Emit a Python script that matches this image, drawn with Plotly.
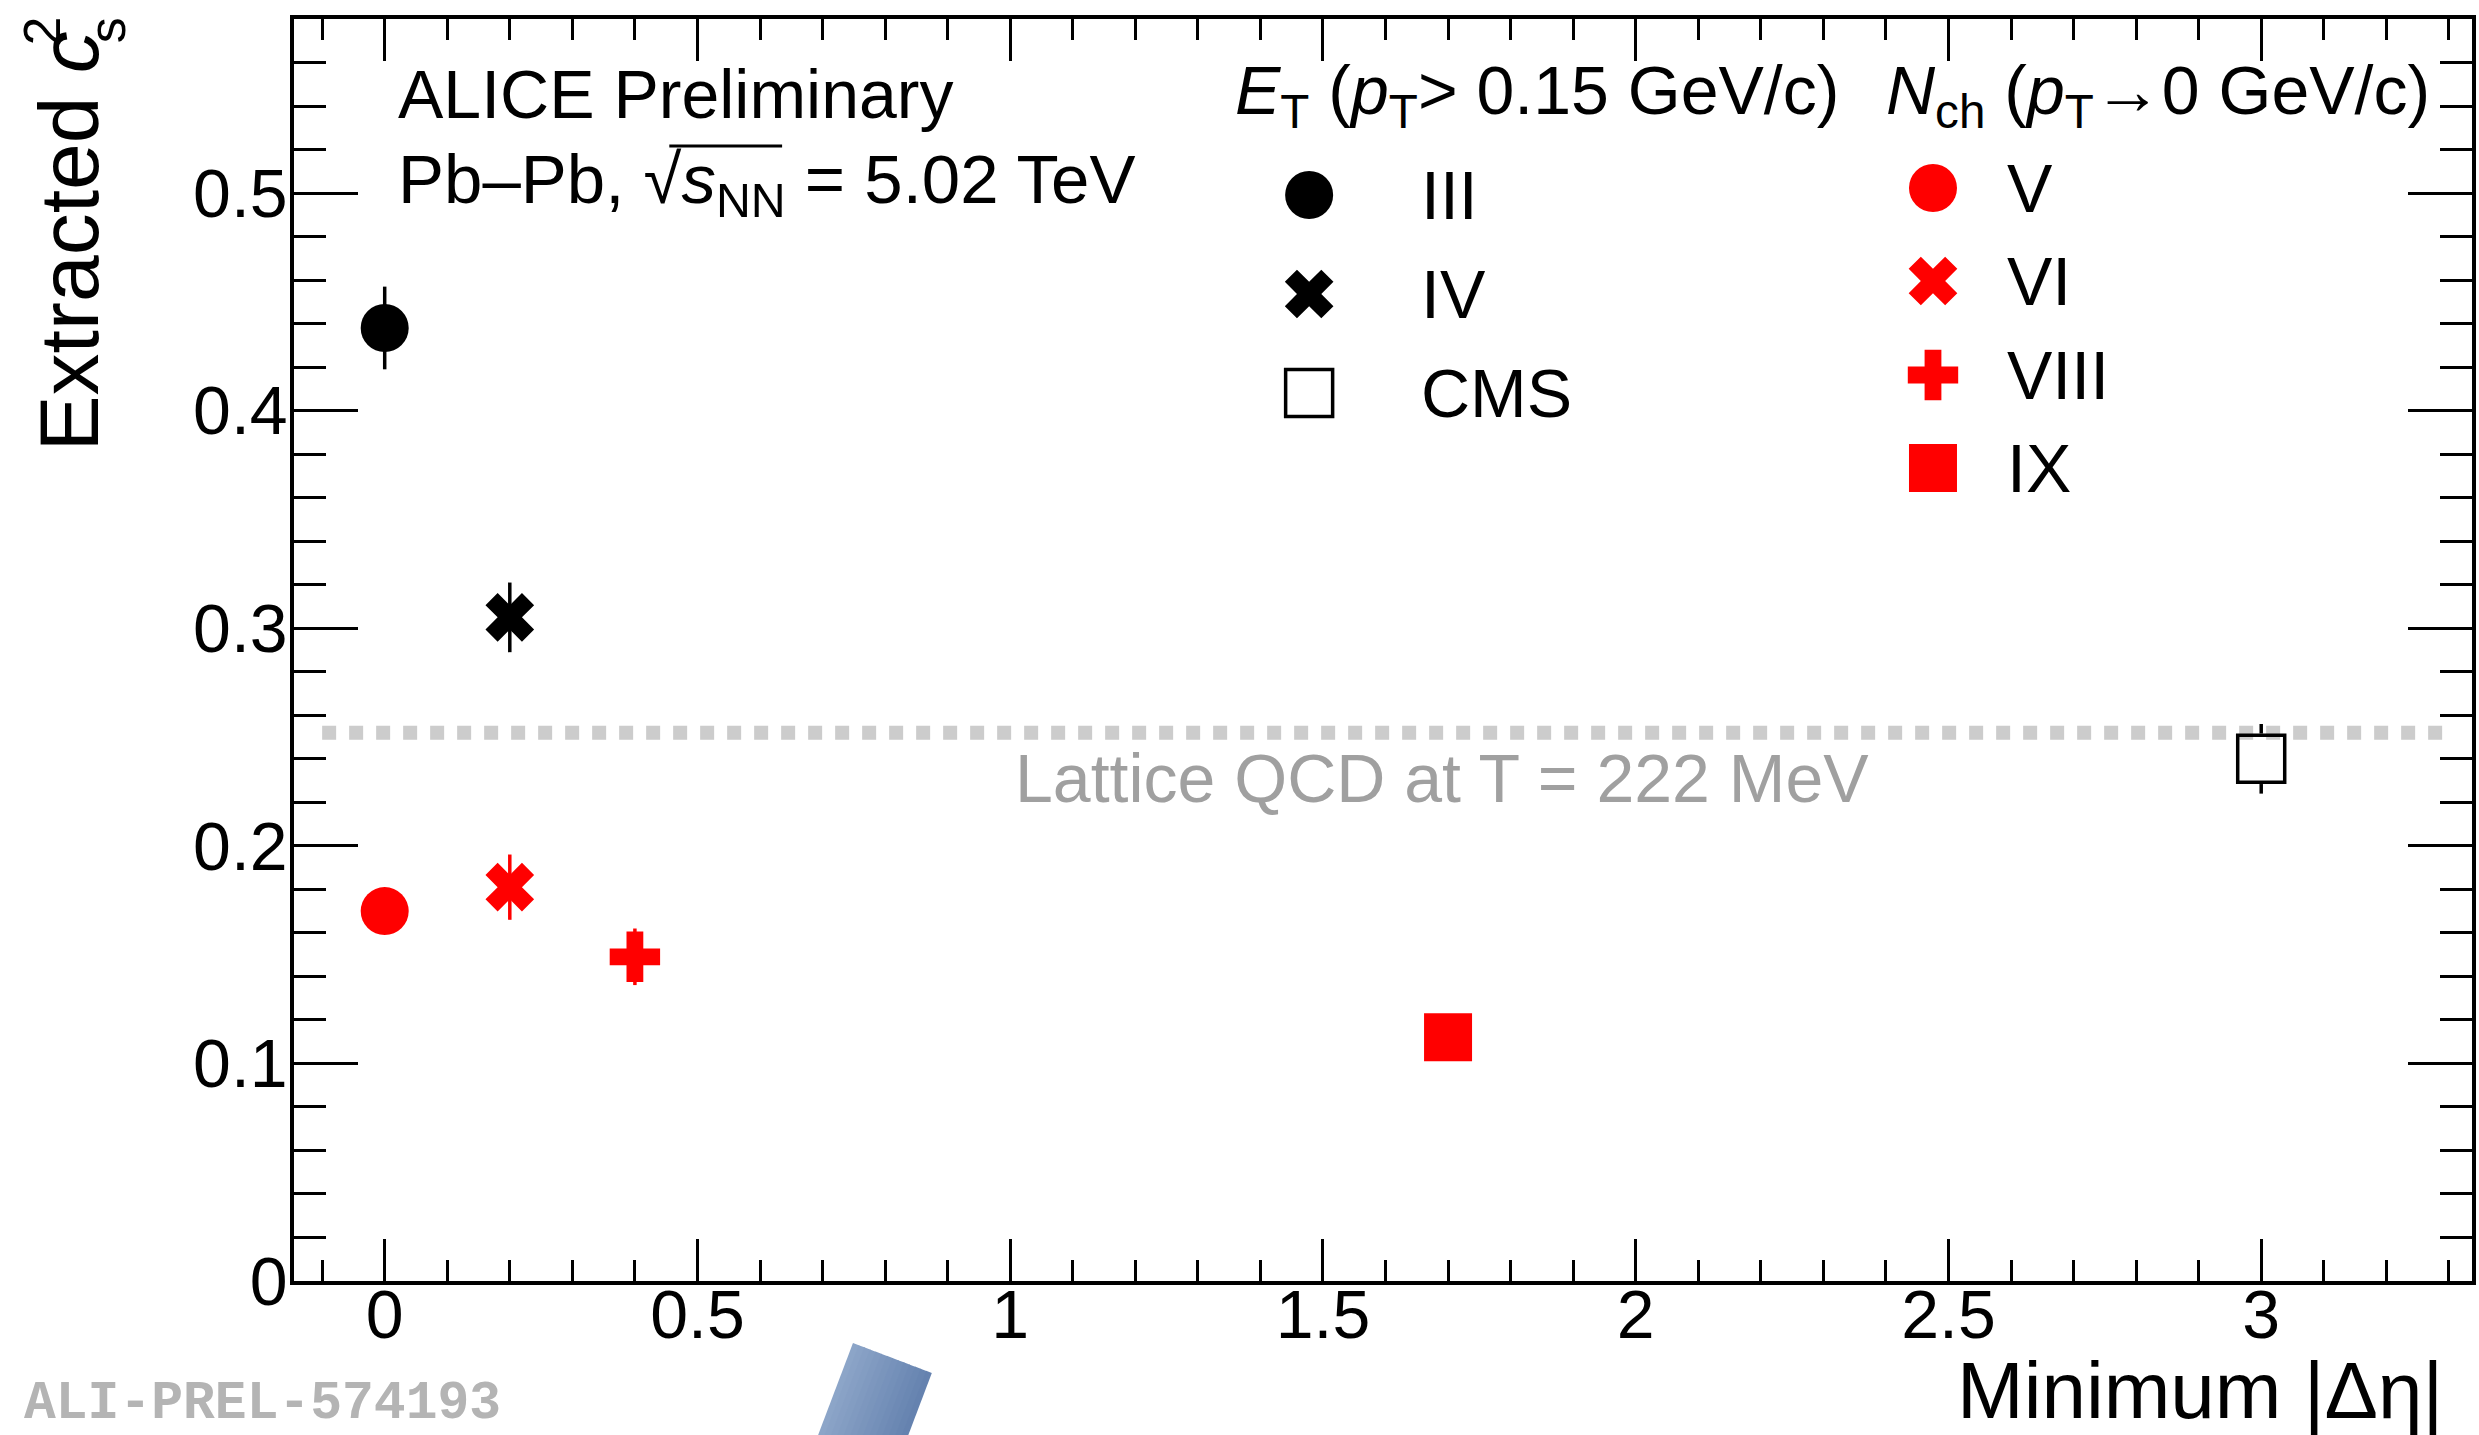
import plotly.graph_objects as go

# ---- figure geometry (pixels) ----
FIG_W, FIG_H = 2479, 1435
M_L, M_R, M_T, M_B = 294, 3, 19, 154
PLOT_W = FIG_W - M_L - M_R
PLOT_H = FIG_H - M_T - M_B
FONT = "Liberation Sans"


def fx(x_px):
    return (x_px - M_L) / PLOT_W


def fy(y_px):
    return (FIG_H - M_B - y_px) / PLOT_H


# ---- data ----
labels = ["III", "IV", "CMS", "V", "VI", "VIII", "IX"]
min_deta = [0.0, 0.2, 3.0, 0.0, 0.2, 0.4, 1.7]
cs2 = [0.438, 0.305, 0.240, 0.170, 0.181, 0.149, 0.112]
cs2_err = [0.019, 0.016, 0.016, 0.008, 0.015, 0.013, 0.008]

lattice_label = "Lattice QCD at T = 222 MeV"
lattice_cs2 = 0.252
lattice_x = [-0.1, 3.3]

x_range = [-0.145, 3.337]
y_range = [0.0, 0.58]

# marker style per entry
symbols = {"III": "circle", "IV": "x", "CMS": "square-open", "V": "circle",
           "VI": "x", "VIII": "cross", "IX": "square"}
sizes = {"circle": 48, "x": 43, "square-open": 47, "cross": 42, "square": 48}
colors = {"III": "black", "IV": "black", "CMS": "black", "V": "#ff0000",
          "VI": "#ff0000", "VIII": "#ff0000", "IX": "#ff0000"}
ERR_W = 3.5

fig = go.Figure()

# lattice reference line
fig.add_trace(go.Scatter(
    x=lattice_x, y=[lattice_cs2, lattice_cs2], mode="lines",
    line=dict(color="#cccccc", width=14, dash="14px,13px"),
    hoverinfo="skip", showlegend=False))

px_per_y = PLOT_H / (y_range[1] - y_range[0])

# measured points
for lab, x, y, e in zip(labels, min_deta, cs2, cs2_err):
    sym = symbols[lab]
    col = colors[lab]
    if sym.endswith("-open"):
        # hollow marker: error bar stops at the marker outline
        half = (sizes[sym] / 2 + ERR_W / 2) / px_per_y
        fig.add_trace(go.Scatter(
            x=[x, x, None, x, x], y=[y + e, y + half, None, y - half, y - e],
            mode="lines", line=dict(color=col, width=ERR_W),
            hoverinfo="skip", showlegend=False, cliponaxis=False))
        err = None
    else:
        err = dict(type="data", array=[e], visible=True, color=col,
                   thickness=ERR_W, width=0)
    fig.add_trace(go.Scatter(
        x=[x], y=[y], mode="markers", name=lab, showlegend=False,
        error_y=err,
        marker=dict(symbol=sym, size=sizes[sym], color=col,
                    line=dict(width=3.5 if sym.endswith("-open") else 0, color=col)),
        cliponaxis=False))

# ---- legend keys (drawn on a pixel-unit overlay axis) ----
leg_col1 = ["III", "IV", "CMS"]
leg_col2 = ["V", "VI", "VIII", "IX"]
leg_col1_x, leg_col1_y = 1311, [195, 294, 393]
leg_col2_x, leg_col2_y = 1936, [188, 281, 375, 468]
leg_col1_text_x, leg_col2_text_x = 1421, 2008

for col_labels, kx, kys in [(leg_col1, leg_col1_x, leg_col1_y),
                            (leg_col2, leg_col2_x, leg_col2_y)]:
    for lab, ky in zip(col_labels, kys):
        sym = symbols[lab]
        col = colors[lab]
        fig.add_trace(go.Scatter(
            x=[kx], y=[ky], xaxis="x2", yaxis="y2", mode="markers",
            showlegend=False, hoverinfo="skip", cliponaxis=False,
            marker=dict(symbol=sym, size=sizes[sym], color=col,
                        line=dict(width=3.5 if sym.endswith("-open") else 0, color=col))))

annotations = []


def text(x_px, y_base, s, size=68, color="black", xanchor="left", family=FONT):
    annotations.append(dict(
        x=fx(x_px), y=fy(y_base - 0.35 * size), xref="paper", yref="paper",
        text=s, showarrow=False, xanchor=xanchor, yanchor="middle",
        font=dict(family=family, size=size, color=color)))


# legend texts
text(1235, 119, "<i>E</i><sub>T</sub> (<i>p</i><sub>T</sub>> 0.15 GeV/c)")
text(1887, 119, "<i>N</i><sub>ch</sub> (<i>p</i><sub>T</sub>→0 GeV/c)")
for lab, ky in zip(leg_col1, leg_col1_y):
    annotations.append(dict(x=fx(leg_col1_text_x), y=fy(ky), xref="paper", yref="paper",
                            text=lab, showarrow=False, xanchor="left", yanchor="middle",
                            font=dict(family=FONT, size=68, color="black")))
for lab, ky in zip(leg_col2, leg_col2_y):
    annotations.append(dict(x=fx(leg_col2_text_x), y=fy(ky), xref="paper", yref="paper",
                            text=lab, showarrow=False, xanchor="left", yanchor="middle",
                            font=dict(family=FONT, size=68, color="black")))

# system labels
text(396, 118, "ALICE Preliminary", size=68)
text(396, 208, "Pb–Pb, √<i>s</i><sub>NN</sub> = 5.02 TeV", size=69)

# lattice label
text(1014, 802, lattice_label, size=68, color="#a0a0a0")

# axis titles
text(2449, 1418, "Minimum |Δη|", size=80, xanchor="right")
annotations.append(dict(x=fx(69), y=fy(453), xref="paper", yref="paper",
                        text="Extracted <i>c</i>", textangle=-90, showarrow=False,
                        xanchor="center", yanchor="bottom",
                        font=dict(family=FONT, size=84, color="black")))
annotations.append(dict(x=fx(42), y=fy(31), xref="paper", yref="paper", text="2",
                        textangle=-90, showarrow=False, xanchor="center", yanchor="middle",
                        font=dict(family=FONT, size=52, color="black")))
annotations.append(dict(x=fx(107), y=fy(30), xref="paper", yref="paper", text="s",
                        textangle=-90, showarrow=False, xanchor="center", yanchor="middle",
                        font=dict(family=FONT, size=52, color="black")))

# preliminary figure id
annotations.append(dict(x=fx(22), y=fy(1404), xref="paper", yref="paper",
                        text="<b>ALI-PREL-574193</b>", showarrow=False,
                        xanchor="left", yanchor="middle",
                        font=dict(family="Liberation Mono", size=53, color="#b4b4b4")))

shapes = []
# overline of the square root
shapes.append(dict(type="line", xref="paper", yref="paper",
                   x0=fx(670), x1=fx(783), y0=fy(146), y1=fy(146),
                   line=dict(color="black", width=3)))

# logo fragment: tilted bar with a horizontal shading
p0 = (854.0, 1343.0)
p1 = (933.0, 1373.0)
ux, uy = -0.355, 0.935
depth = 115.0
n_strips = 14
c_left = (141, 166, 201)
c_right = (100, 129, 174)
for i in range(n_strips):
    t0 = i / n_strips
    t1 = min(1.0, (i + 1.15) / n_strips)
    ax = p0[0] + (p1[0] - p0[0]) * t0
    ay = p0[1] + (p1[1] - p0[1]) * t0
    bx = p0[0] + (p1[0] - p0[0]) * t1
    by = p0[1] + (p1[1] - p0[1]) * t1
    cx, cy = bx + ux * depth, by + uy * depth
    dx, dy = ax + ux * depth, ay + uy * depth
    tm = (i + 0.5) / n_strips
    rgb = tuple(int(round(c_left[k] + (c_right[k] - c_left[k]) * tm)) for k in range(3))
    path = "M {} {} L {} {} L {} {} L {} {} Z".format(
        fx(ax), fy(ay), fx(bx), fy(by), fx(cx), fy(cy), fx(dx), fy(dy))
    shapes.append(dict(type="path", xref="paper", yref="paper", path=path,
                       fillcolor="rgb({},{},{})".format(*rgb), line=dict(width=0),
                       layer="above"))

axis_common = dict(showline=True, linecolor="black", linewidth=3.5, mirror="ticks",
                   ticks="inside", tickwidth=3, tickcolor="black", showgrid=False,
                   zeroline=False,
                   tickfont=dict(family=FONT, size=68, color="black"))

fig.update_layout(
    width=FIG_W, height=FIG_H,
    margin=dict(l=M_L, r=M_R, t=M_T, b=M_B, pad=0),
    paper_bgcolor="white", plot_bgcolor="white",
    showlegend=False,
    xaxis=dict(range=x_range, tick0=0, dtick=0.5, ticklen=42,
               ticklabelstandoff=-28,
               minor=dict(dtick=0.1, tick0=0, ticklen=21, tickwidth=3,
                          tickcolor="black", ticks="inside"),
               **axis_common),
    yaxis=dict(range=y_range, tick0=0, dtick=0.1, ticklen=64,
               ticklabelstandoff=-11,
               minor=dict(dtick=0.02, tick0=0, ticklen=32, tickwidth=3,
                          tickcolor="black", ticks="inside"),
               **axis_common),
    xaxis2=dict(range=[M_L, FIG_W - M_R], overlaying="x", visible=False,
                fixedrange=True),
    yaxis2=dict(range=[FIG_H - M_B, M_T], overlaying="y", visible=False,
                fixedrange=True),
    annotations=annotations,
    shapes=shapes,
)

fig.write_html("out.html")
